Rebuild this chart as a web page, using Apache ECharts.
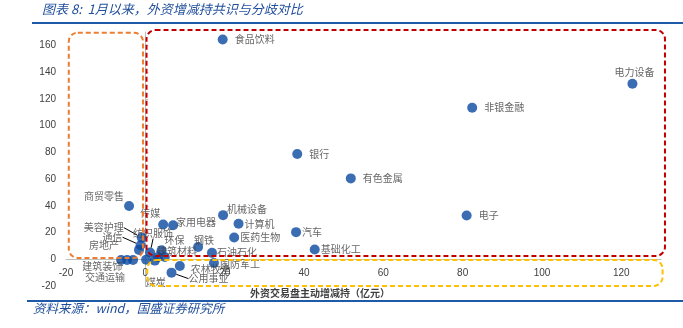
<!DOCTYPE html>
<html>
<head>
<meta charset="utf-8">
<script src="https://cdn.jsdelivr.net/npm/echarts@6/dist/echarts.min.js"></script>
<style>
  html, body { margin: 0; padding: 0; background: #fff; }
  #chart { width: 683px; height: 328px; }
</style>
</head>
<body>
<div id="chart"></div>
<script>
// 行业名称
const industries = [
  '食品饮料', '电力设备', '非银金融', '银行', '有色金属', '电子',
  '机械设备', '计算机', '医药生物', '汽车', '基础化工', '石油石化',
  '钢铁', '国防军工', '传媒', '家用电器', '纺织服饰', '环保',
  '建筑材料', '农林牧渔', '公用事业', '煤炭', '商贸零售', '美容护理',
  '通信', '房地产', '建筑装饰', '交通运输', '轻工制造', '社会服务', '综合'
];
// 外资交易盘主动增减持（亿元）
const tradingFlow = [
  19.5, 122.8, 82.4, 38.3, 51.8, 81.0,
  19.6, 23.5, 22.4, 38.0, 42.7, 16.8,
  13.3, 17.3, 4.5, 7.0, 1.2, 4.1,
  3.2, 8.7, 6.6, 2.4, -4.1, -0.9,
  -1.2, -1.6, -6.1, -4.6, -3.1, 0.2, 4.9
];
// 外资配置盘主动增减持（亿元）
const allocationFlow = [
  164.4, 131.3, 113.4, 78.8, 60.5, 32.8,
  33.0, 26.5, 16.3, 20.3, 7.3, 4.8,
  9.2, -2.8, 26.0, 25.5, 5.0, 6.8,
  1.7, -5.0, -10.0, -1.0, 39.8, 16.2,
  10.5, 7.0, -0.5, -0.5, -0.5, -0.3, 1.7
];
// 不显示标签的行业
const unlabeled = ['轻工制造', '社会服务', '综合'];
// 坐标轴刻度
const xTickLabels = ['-20', '0', '20', '40', '60', '80', '100', '120'];
const yTickLabels = ['-20', '0', '20', '40', '60', '80', '100', '120', '140', '160'];

// 标签相对散点中心的偏移（像素），未列出的行业标签放在右侧
const labelOffsets = {
  '电力设备': [2, -12],
  '机械设备': [24, -6],
  '计算机': [21, 0],
  '医药生物': [26, 0],
  '汽车': [16, 0],
  '基础化工': [26, 0],
  '石油石化': [25, -1],
  '钢铁': [6, -7],
  '国防军工': [26, 1],
  '传媒': [-13, -11],
  '家用电器': [23, -3],
  '纺织服饰': [3, -19],
  '环保': [13, -10],
  '建筑材料': [19, -6],
  '农林牧渔': [31, 3],
  '公用事业': [37, 6],
  '煤炭': [1, 22],
  '商贸零售': [-25, -10],
  '美容护理': [-38, -10],
  '通信': [-28, -8],
  '房地产': [-35, -5],
  '建筑装饰': [-19, 6],
  '交通运输': [-22, 17]
};
// 带引导线的标签
const leaderLabels = ['纺织服饰', '公用事业', '美容护理', '通信', '建筑装饰', '建筑材料'];

// 三个分区虚线框（数据坐标）：[xMin, yMin, xMax, yMax]
const zones = [
  { color: '#ED7D31', range: [-19.3, 1.0, -0.6, 169.5] },
  { color: '#C00000', range: [0.3, 2.5, 131.0, 171.5] },
  { color: '#FFC000', range: [0.5, -20.0, 130.4, -0.5] }
];

const points = industries.map((name, i) => {
  const item = { name: name, value: [tradingFlow[i], allocationFlow[i]] };
  if (unlabeled.includes(name)) item.label = { show: false };
  if (leaderLabels.includes(name)) item.labelLine = { show: true };
  return item;
});

const chart = echarts.init(document.getElementById('chart'), null, { renderer: 'canvas' });
const axisFont = { fontFamily: '"Liberation Sans", Arial, sans-serif', fontSize: 10, color: '#404040' };
const cjk = '"Noto Sans CJK SC", sans-serif';

chart.setOption({
  animation: false,
  backgroundColor: '#ffffff',
  grid: { left: 66, right: 22, top: 32, bottom: 42, containLabel: false, outerBoundsMode: 'none' },
  xAxis: {
    type: 'value', min: -20, max: 130, interval: 20,
    position: 'bottom',
    axisLine: { onZero: false, lineStyle: { color: '#BFBFBF', width: 1 } },
    axisTick: { show: false },
    splitLine: { show: false },
    axisLabel: Object.assign({
      margin: 9, showMaxLabel: false,
      formatter: v => xTickLabels.includes(String(v)) ? String(v) : ''
    }, axisFont)
  },
  yAxis: {
    type: 'value', min: -20, max: 170, interval: 20,
    axisLine: { onZero: true, lineStyle: { color: '#BFBFBF', width: 1 } },
    axisTick: { show: true, inside: true, length: 3, lineStyle: { color: '#BFBFBF' } },
    splitLine: { show: false },
    axisLabel: Object.assign({
      margin: 10, showMaxLabel: false,
      formatter: v => yTickLabels.includes(String(v)) ? String(v) : ''
    }, axisFont),
    name: '外资配置盘主动增减持（亿元）',
    nameLocation: 'middle',
    nameGap: 96,
    nameTextStyle: { fontFamily: cjk, fontSize: 10, fontWeight: 'bold', color: '#404040' }
  },
  series: [{
    type: 'scatter',
    symbol: 'circle',
    symbolSize: 10,
    itemStyle: { color: '#0A48A0' },
    data: points,
    label: {
      show: true,
      position: 'right',
      distance: 7,
      formatter: p => p.name,
      fontFamily: cjk,
      fontSize: 10,
      color: '#404040'
    },
    labelLine: { show: false, lineStyle: { color: '#000000', width: 1 } },
    labelLayout: function (params) {
      const name = industries[params.dataIndex];
      const off = labelOffsets[name];
      if (!off) return {};
      const r = params.rect;
      return {
        x: r.x + r.width / 2 + off[0],
        y: r.y + r.height / 2 + off[1],
        align: 'center',
        verticalAlign: 'middle'
      };
    }
  }]
});

// 横轴移到纵轴零值处
const zeroY = chart.convertToPixel({ gridIndex: 0 }, [0, 0])[1];
const bottomY = chart.convertToPixel({ gridIndex: 0 }, [0, -20])[1];
chart.setOption({ xAxis: { offset: zeroY - bottomY } });

// 根据坐标换算分区框位置
function zoneRect(zone) {
  const [x0, y0, x1, y1] = zone.range;
  const tl = chart.convertToPixel({ gridIndex: 0 }, [x0, y1]);
  const br = chart.convertToPixel({ gridIndex: 0 }, [x1, y0]);
  return {
    type: 'rect',
    z: 100,
    silent: true,
    shape: { x: tl[0], y: tl[1], width: br[0] - tl[0], height: br[1] - tl[1], r: 9 },
    style: { fill: 'none', stroke: zone.color, lineWidth: 2, lineDash: [5, 3] }
  };
}

const blue = '#1F4E9B';
chart.setOption({
  graphic: [
    {
      type: 'text', left: 42, top: 3,
      style: {
        text: '图表 8:  1月以来，外资增减持共识与分歧对比',
        font: 'italic 13px "Noto Sans CJK SC", sans-serif',
        fill: blue
      }
    },
    { type: 'line', shape: { x1: 32, y1: 23, x2: 683, y2: 23 }, style: { stroke: '#1F5AA8', lineWidth: 2 } },
    {
      type: 'text', x: 320, y: 293,
      style: {
        text: '外资交易盘主动增减持（亿元）',
        font: 'bold 10px "Noto Sans CJK SC", sans-serif',
        fill: '#404040', align: 'center', verticalAlign: 'middle'
      }
    },
    { type: 'line', shape: { x1: 27, y1: 301, x2: 683, y2: 301 }, style: { stroke: '#1F5AA8', lineWidth: 2 } },
    {
      type: 'text', left: 33, top: 302,
      style: {
        text: '资料来源：wind，国盛证券研究所',
        font: 'italic 12.5px "Noto Sans CJK SC", sans-serif',
        fill: blue
      }
    }
  ].concat(zones.map(zoneRect))
});
</script>
</body>
</html>
